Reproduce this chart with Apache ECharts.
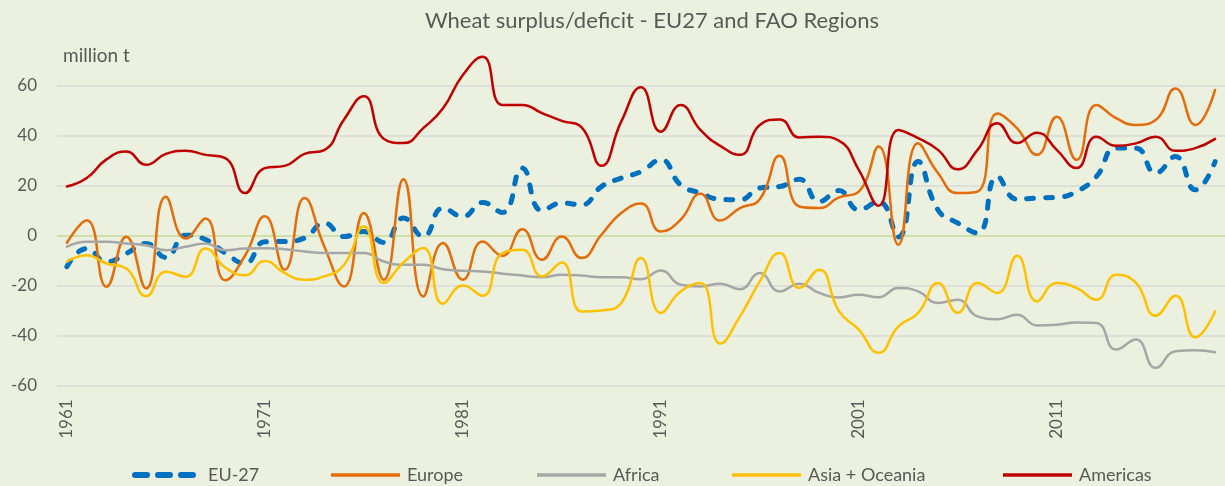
<!DOCTYPE html>
<html>
<head>
<meta charset="utf-8">
<script src="https://cdn.jsdelivr.net/npm/echarts@6/dist/echarts.min.js"></script>
<style>
  html, body { margin: 0; padding: 0; background: #ebf1de; }
  #chart { width: 1225px; height: 486px; }
</style>
</head>
<body>
<div id="chart"></div>
<script>
// years 1961..2019
const years = [];
for (let y = 1961; y <= 2019; y++) years.push(String(y));

const eu27 = [-12.5, -5.2, -10.5, -7.2, -3.2, -8.8, 0.1, -1.6, -7, -11.2,
  -2.5, -2.4, -1, 5, -0.4, 1.6, -2.8, 7, -0.4, 11,
  7.6, 13.2, 9.2, 27, 10, 13, 12.3, 19.6, 23, 25.6,
  30.3, 20.3, 17, 14.5, 14.3, 19, 19.6, 22.5, 13.6, 18,
  10.3, 13.6, -0.6, 29.6, 10.3, 5, 1, 23.6, 14.5, 15,
  15.3, 17.6, 23.6, 35, 35, 25, 31.6, 18.3, 29.6];

const europe = [-2.9, 6.1, -20.5, -0.5, -21.2, 15.5, -1.2, 6.8, -17.9, -8,
  7.7, -13.7, 15, -4.4, -20.4, 9, -17.7, 22.5, -24.4, -3,
  -17.7, -2.4, -8.1, 2.5, -9.7, -0.4, -9, 0.3, 9, 12.8,
  1.6, 6.3, 16.7, 6, 11, 14.5, 31.9, 11.6, 11, 15.3,
  17.6, 35.6, -3.7, 36.9, 25, 17, 17.6, 48.9, 42.9, 32.3,
  47.6, 30.3, 52.3, 47, 44.3, 46.3, 58.9, 44.3, 58.3];

const africa = [-4.5, -2.5, -2.5, -3.2, -3.9, -5.9, -4.5, -3.2, -5.9, -5.2,
  -5.1, -5.5, -6.4, -7, -7, -7, -10.4, -11.7, -11.7, -13.5,
  -14.1, -14.4, -15.3, -16, -16.7, -15.7, -16, -16.7, -16.7, -17.5,
  -14, -19.7, -20.4, -19.3, -21.5, -15, -22.4, -19.3, -23, -24.8,
  -23.7, -24.7, -21, -22.4, -27, -25.7, -32.4, -33.5, -31.7, -36,
  -35.7, -34.8, -35, -45.7, -41.7, -53, -46.4, -46, -46.8];

const asiaOceania = [-10.5, -7.9, -11.2, -13.2, -24.3, -14.5, -16.5, -5.2, -12.8, -15.9,
  -10.2, -15.1, -17.7, -16.4, -11.7, 3.6, -19, -10.8, -5, -27.3,
  -20, -24.1, -7, -5.7, -16.4, -10.8, -30.4, -30, -27, -9,
  -31, -22.4, -19, -43.3, -32.4, -18.4, -7, -21, -13.7, -30.3,
  -37.7, -47, -36.4, -31, -19, -31, -19, -23, -8.1, -26.4,
  -19, -21, -25.7, -15.7, -19, -32.1, -24.1, -40.8, -30.4];

const americas = [19.6, 23, 30.5, 33.6, 28.3, 32.7, 33.9, 32.3, 31, 17,
  27, 27.9, 32.7, 34.2, 46.5, 55.8, 38.8, 37, 43, 51,
  64.3, 71.6, 52.3, 52.3, 49, 45.9, 43.3, 27.9, 45.6, 59.4,
  41.6, 52.3, 42.3, 35.9, 32.3, 44.3, 46.5, 39.3, 39.6, 38,
  26.3, 11.9, 42.3, 39, 34.3, 26.5, 34.3, 45, 37, 41.2,
  34.3, 27, 39.6, 35.9, 36.9, 39.6, 33.9, 35, 38.7];

const yTicks = [-60, 60, 20];

const textColor = '#595959';
const font = 'Lato, "Open Sans", sans-serif';

// three rounded dashes for the EU-27 legend key
const dashIcon = 'path://M3,0H15A3,3 0 0 1 15,6H3A3,3 0 0 1 3,0Z' +
  'M26,0H38A3,3 0 0 1 38,6H26A3,3 0 0 1 26,0Z' +
  'M49,0H61A3,3 0 0 1 61,6H49A3,3 0 0 1 49,0Z';

const seriesDefs = [
  { name: 'EU-27', data: eu27, color: '#0070c0', width: 5, dash: [7, 12] },
  { name: 'Europe', data: europe, color: '#e46c0a', width: 2.5 },
  { name: 'Africa', data: africa, color: '#a6a6a6', width: 2.5 },
  { name: 'Asia + Oceania', data: asiaOceania, color: '#ffc000', width: 2.5 },
  { name: 'Americas', data: americas, color: '#c00000', width: 2.5 }
];
const legendLeft = [127, 326, 532, 727, 998];

const chart = echarts.init(document.getElementById('chart'));
chart.setOption({
  backgroundColor: '#ebf1de',
  animation: false,
  title: {
    text: 'Wheat surplus/deficit - EU27 and FAO Regions',
    left: 647,
    top: 5,
    textAlign: 'center',
    textStyle: { color: textColor, fontFamily: font, fontSize: 22, fontWeight: 'normal' }
  },
  graphic: [{
    type: 'text',
    left: 63,
    top: 46,
    style: { text: 'million t', fill: textColor, font: '19px ' + font }
  }],
  legend: seriesDefs.map((s, i) => ({
    data: [i === 0
      ? { name: s.name, icon: dashIcon, itemStyle: { color: s.color, borderWidth: 0 }, lineStyle: { width: 0, opacity: 0 } }
      : { name: s.name, icon: 'rect' }],
    left: legendLeft[i],
    top: 461,
    itemWidth: i === 0 ? 64 : 69,
    itemHeight: i === 0 ? 6 : 3.5,
    itemGap: 0,
    textStyle: { color: textColor, fontFamily: font, fontSize: 18, padding: [0, 0, 0, i === 0 ? 7 : 2] }
  })),
  grid: { left: 57, right: -6, top: 85.7, bottom: 100.7 },
  xAxis: {
    type: 'category',
    data: years,
    boundaryGap: true,
    axisLine: { show: false },
    axisTick: { show: false },
    axisLabel: {
      interval: 9,
      rotate: 90,
      margin: 14,
      color: textColor,
      fontFamily: font,
      fontSize: 17
    }
  },
  yAxis: {
    type: 'value',
    min: yTicks[0],
    max: yTicks[1],
    interval: yTicks[2],
    axisLine: { show: false },
    axisTick: { show: false },
    axisLabel: {
      margin: 20,
      color: textColor,
      fontFamily: font,
      fontSize: 17
    },
    splitLine: {
      lineStyle: {
        width: 1.5,
        color: ['#d9d9d9', '#d9d9d9', '#d9d9d9', '#c4d79b', '#d9d9d9', '#d9d9d9', '#d9d9d9']
      }
    }
  },
  series: seriesDefs.map(s => ({
    name: s.name,
    type: 'line',
    data: s.data,
    smooth: 0.5,
    symbol: 'none',
    clip: false,
    itemStyle: { color: s.color },
    lineStyle: {
      color: s.color,
      width: s.width,
      type: s.dash || 'solid',
      cap: 'round'
    }
  }))
});
</script>
</body>
</html>
